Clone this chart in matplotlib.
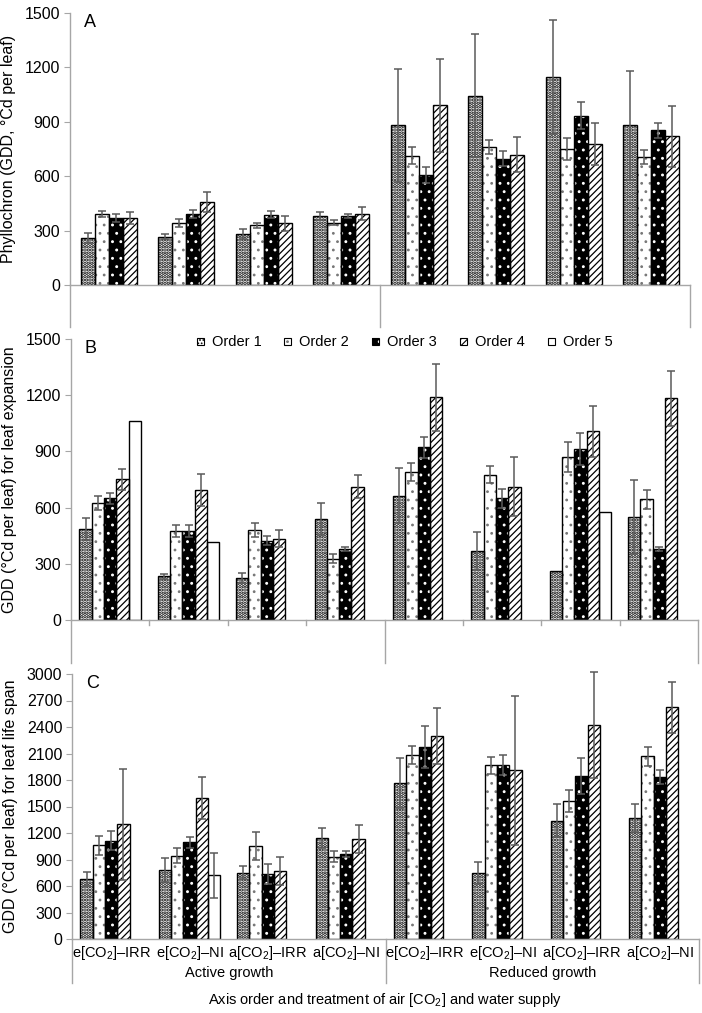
import numpy as np
import matplotlib
matplotlib.use('Agg')
import matplotlib.pyplot as plt
from matplotlib.patches import Rectangle

plt.rcParams['font.family'] = ['Liberation Sans', 'DejaVu Sans']
plt.rcParams['mathtext.fontset'] = 'custom'
plt.rcParams['mathtext.rm'] = 'Liberation Sans'
plt.rcParams['mathtext.it'] = 'Liberation Sans:italic'
plt.rcParams['hatch.linewidth'] = 0.8

# ---------------- data ----------------
treatments = ['e[CO$_2$]–IRR', 'e[CO$_2$]–NI', 'a[CO$_2$]–IRR', 'a[CO$_2$]–NI']
growth_phases = ['Active growth', 'Reduced growth']
orders = ['Order 1', 'Order 2', 'Order 3', 'Order 4', 'Order 5']

# Panel A: phyllochron (orders 1-4), 8 groups (4 active + 4 reduced)
A_o1 = [258, 267, 282, 381, 880, 1045, 1146, 880]
A_o2 = [392, 344, 329, 344, 714, 762, 749, 705]
A_o3 = [370, 392, 388, 383, 609, 697, 933, 854]
A_o4 = [370, 460, 340, 394, 990, 719, 780, 819]
A_e1 = [28, 13, 28, 22, 312, 337, 313, 300]
A_e2 = [15, 22, 15, 15, 46, 39, 59, 40]
A_e3 = [22, 22, 18, 11, 44, 42, 74, 42]
A_e4 = [35, 55, 42, 35, 256, 96, 116, 166]

# Panel B: leaf expansion
B_o1 = [484, 233, 226, 539, 664, 368, 263, 550]
B_o2 = [624, 475, 479, 327, 790, 776, 872, 644]
B_o3 = [649, 475, 423, 379, 922, 649, 913, 379]
B_o4 = [751, 696, 434, 712, 1188, 712, 1007, 1183]
B_o5 = [1064, 415, np.nan, np.nan, np.nan, np.nan, 578, np.nan]
B_e1 = [59, 12, 27, 87, 147, 101, 0, 196]
B_e2 = [37, 30, 37, 23, 46, 46, 80, 50]
B_e3 = [30, 30, 25, 12, 57, 52, 84, 12]
B_e4 = [55, 85, 44, 60, 180, 157, 137, 148]
B_e5 = [0, 0, 0, 0, 0, 0, 0, 0]

# Panel C: leaf life span
C_o1 = [679, 785, 751, 1147, 1768, 752, 1341, 1368]
C_o2 = [1060, 943, 1053, 932, 2078, 1968, 1564, 2067]
C_o3 = [1113, 1094, 732, 966, 2172, 1968, 1844, 1832]
C_o4 = [1298, 1593, 774, 1132, 2297, 1908, 2418, 2622]
C_o5 = [np.nan, 721, np.nan, np.nan, np.nan, np.nan, np.nan, np.nan]
C_e1 = [83, 136, 75, 113, 280, 125, 185, 162]
C_e2 = [106, 83, 158, 64, 102, 98, 125, 106]
C_e3 = [109, 60, 113, 34, 234, 117, 204, 76]
C_e4 = [626, 238, 158, 155, 314, 839, 600, 287]
C_e5 = [0, 253, 0, 0, 0, 0, 0, 0]

# ---------------- styles ----------------
# (facecolor, hatch, hatch colour, hatch linewidth)
styles = [
    ('white', '.....', 'black', 1.7),
    ('white', '..', '#777777', 0.8),
    ('black', '..', 'white', 0.9),
    ('white', '/////', 'black', 0.9),
    ('white', None, None, 0.8),
]
axis_grey = '#a6a6a6'
err_grey = '#5a5a5a'

W, H = 702, 1013
fig = plt.figure(figsize=(W / 100, H / 100), dpi=100)


def add_axes_px(left, right, top, bottom):
    return fig.add_axes([left / W, 1 - bottom / H, (right - left) / W, (bottom - top) / H])


def draw_bar(ax, x, h, w, k, zorder=2):
    fc, hatch, hc, hlw = styles[k]
    ax.bar(x, h, w, color=fc, edgecolor='black', linewidth=0, zorder=zorder)
    if hatch:
        with plt.rc_context({'hatch.linewidth': hlw}):
            ax.bar(x, h, w, fill=False, edgecolor=hc, hatch=hatch, linewidth=0, zorder=zorder + 0.1)
    ax.bar(x, h, w, fill=False, edgecolor='black', linewidth=1.0, zorder=zorder + 0.2)


def panel(ax, means, errs, nslots, width, ymax, step, ylabel, letter, ext_frac,
          ticks_between=False):
    n = len(means[0])
    centers = np.arange(n) + 0.5
    for k, (m, e) in enumerate(zip(means, errs)):
        m = np.asarray(m, float)
        e = np.asarray(e, float)
        off = (k - (nslots - 1) / 2) * width
        ok = ~np.isnan(m)
        draw_bar(ax, centers[ok] + off, m[ok], width, k)
        eb = ok & (e > 0)
        ax.errorbar(centers[eb] + off, m[eb], yerr=e[eb], fmt='none', ecolor=err_grey,
                    elinewidth=1.1, capsize=3, capthick=1.1, zorder=5, clip_on=False)
    ax.set_xlim(0, n)
    ax.set_ylim(0, ymax)
    ax.set_yticks(np.arange(0, ymax + 1, step))
    ax.tick_params(axis='y', direction='out', length=4, color=axis_grey, labelsize=11.5, pad=3)
    ax.set_xticks([])
    for s in ['top', 'right']:
        ax.spines[s].set_visible(False)
    for s in ['left', 'bottom']:
        ax.spines[s].set_color(axis_grey)
        ax.spines[s].set_linewidth(1.0)
    ax.set_ylabel(ylabel, fontsize=11.5, labelpad=6)
    ax.text(0.022, 0.995, letter, transform=ax.transAxes, fontsize=13, va='top', ha='left')
    tr = ax.get_xaxis_transform()
    for xv in [0, n / 2, n]:
        ax.plot([xv, xv], [0, -ext_frac], color=axis_grey, lw=1.0, transform=tr, clip_on=False)
    if ticks_between:
        for xv in range(1, n):
            if xv != n // 2:
                ax.plot([xv, xv], [0, -0.018], color=axis_grey, lw=1.0, transform=tr, clip_on=False)
    return centers


# Panel A
axA = add_axes_px(70, 690, 13, 285)
panel(axA, [A_o1, A_o2, A_o3, A_o4], [A_e1, A_e2, A_e3, A_e4], 4, 0.181, 1500, 300,
      'Phyllochron (GDD, °Cd per leaf)', 'A', 42 / 272)

# Panel B
axB = add_axes_px(71, 698, 339, 620)
panel(axB, [B_o1, B_o2, B_o3, B_o4, B_o5], [B_e1, B_e2, B_e3, B_e4, B_e5], 5, 0.157, 1500, 300,
      'GDD (°Cd per leaf) for leaf expansion', 'B', 43 / 281, ticks_between=True)

# Panel C
axC = add_axes_px(72, 699, 674, 939)
centers = panel(axC, [C_o1, C_o2, C_o3, C_o4, C_o5], [C_e1, C_e2, C_e3, C_e4, C_e5], 5, 0.157,
                3000, 300, 'GDD (°Cd per leaf) for leaf life span', 'C', 44 / 265)
trC = axC.get_xaxis_transform()
all_labels = treatments + treatments
for c, lab in zip(centers, all_labels):
    axC.text(c, -14 / 265, lab, transform=trC, ha='center', va='center', fontsize=10.5)
for i, g in enumerate(growth_phases):
    axC.text(2 + 4 * i, -34 / 265, g, transform=trC, ha='center', va='center', fontsize=10.5)
fig.text(385 / W, 1 - 1000 / H, 'Axis order and treatment of air [CO$_2$] and water supply',
         ha='center', va='center', fontsize=10.5)

# Legend (panel B)
leg_marker_x = [197, 284, 372, 460, 548]
leg_y = 342
for k, (xm, lab) in enumerate(zip(leg_marker_x, orders)):
    fc, hatch, hc, hlw = styles[k]
    x0, y0 = xm / W, 1 - (leg_y + 3.5) / H
    wf, hf = 7 / W, 7 / H
    fig.add_artist(Rectangle((x0, y0), wf, hf, transform=fig.transFigure, facecolor=fc,
                             edgecolor='black', lw=0))
    if hatch:
        with plt.rc_context({'hatch.linewidth': min(hlw, 0.8)}):
            fig.add_artist(Rectangle((x0, y0), wf, hf, transform=fig.transFigure, fill=False,
                                     edgecolor=hc, hatch=hatch, lw=0))
    fig.add_artist(Rectangle((x0, y0), wf, hf, transform=fig.transFigure, fill=False,
                             edgecolor='black', lw=0.8))
    fig.text((xm + 15) / W, 1 - leg_y / H, lab, ha='left', va='center', fontsize=10.5)

fig.savefig('out.png', dpi=100)
